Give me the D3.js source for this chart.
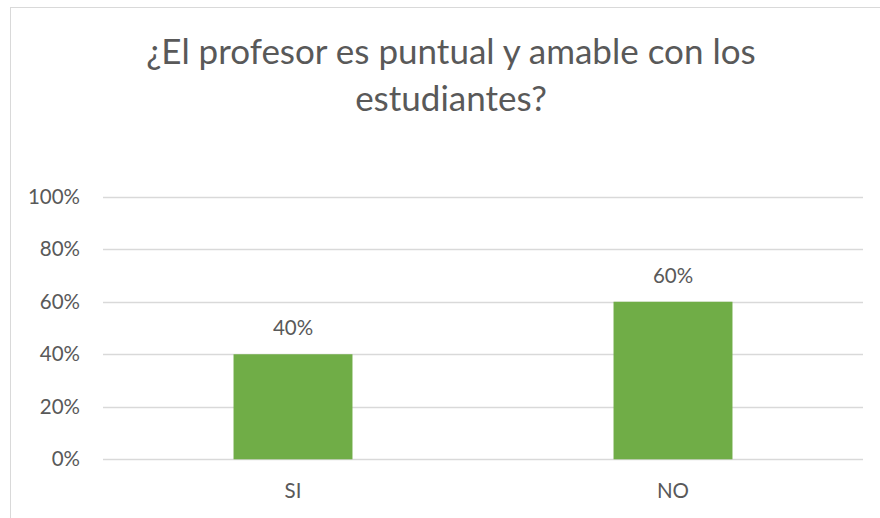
<!DOCTYPE html>
<html><head><meta charset="utf-8">
<script src="https://cdn.jsdelivr.net/npm/d3@7"></script>
<style>body{margin:0;background:#fff}svg{display:block}text{font-family:"Lato","Open Sans",sans-serif;fill:#595959}</style>
</head><body>
<script>
const categories = ["SI", "NO"];
const values = [0.40, 0.60];
const yTicks = [0, 0.2, 0.4, 0.6, 0.8, 1.0];
const titleLines = ["¿El profesor es puntual y amable con los", "estudiantes?"];

const W = 880, H = 518;
const svg = d3.select("body").append("svg").attr("width", W).attr("height", H);
svg.append("rect").attr("x", 10.5).attr("y", 7.5).attr("width", W + 20).attr("height", H + 20)
  .attr("fill", "#fff").attr("stroke", "#d9d9d9").attr("stroke-width", 1);

const x = d3.scaleBand().domain(categories).range([103, 863]).paddingInner(0.687).paddingOuter(0.3435);
const y = d3.scaleLinear().domain([0, 1]).range([459.3, 196.7]);

const title = svg.append("text").attr("text-anchor", "middle").style("font-size", "35px");
titleLines.forEach((t, i) => title.append("tspan").attr("x", 451).attr("y", 64 + i * 47).text(t));

svg.append("g").selectAll("line").data(yTicks).join("line")
  .attr("x1", 103).attr("x2", 863).attr("y1", d => Math.round(y(d)) + 0.5).attr("y2", d => Math.round(y(d)) + 0.5)
  .attr("stroke", "#d9d9d9").attr("stroke-width", 1.3);

const fmt = d3.format(".0%");
svg.append("g").selectAll("text").data(yTicks).join("text")
  .attr("x", 80).attr("y", d => y(d)).attr("dy", "0.35em").attr("text-anchor", "end")
  .style("font-size", "20.5px").text(d => fmt(d));

svg.append("g").selectAll("rect").data(values).join("rect")
  .attr("x", (d, i) => x(categories[i])).attr("width", x.bandwidth())
  .attr("y", d => y(d)).attr("height", d => y(0) - y(d)).attr("fill", "#70AD47");

svg.append("g").selectAll("text").data(values).join("text")
  .attr("x", (d, i) => x(categories[i]) + x.bandwidth() / 2).attr("y", d => y(d) - 19)
  .attr("text-anchor", "middle").style("font-size", "20.5px").text(d => fmt(d));

svg.append("g").selectAll("text").data(categories).join("text")
  .attr("x", d => x(d) + x.bandwidth() / 2).attr("y", 498)
  .attr("text-anchor", "middle").style("font-size", "20.5px").text(d => d);
</script>
</body></html>
